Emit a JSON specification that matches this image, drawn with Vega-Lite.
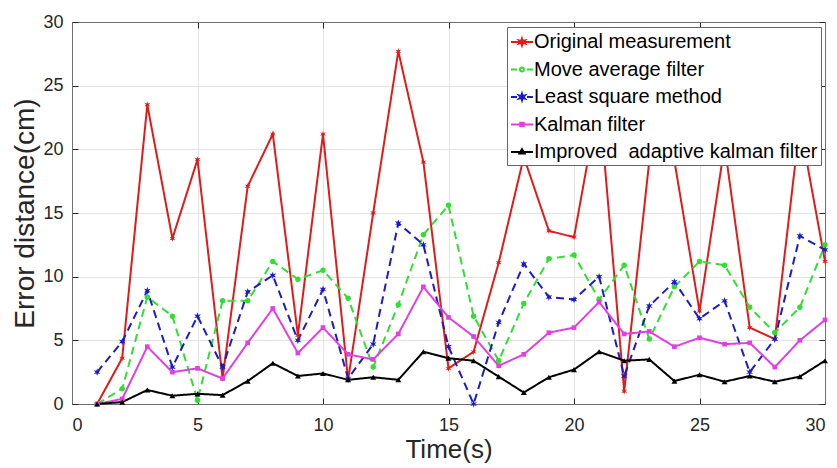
{
  "$schema": "https://vega.github.io/schema/vega-lite/v6.json",
  "width": 753,
  "height": 382,
  "autosize": "none",
  "padding": {"left": 72, "top": 22, "right": 12, "bottom": 64},
  "background": "white",
  "config": {
    "font": "Liberation Sans",
    "view": {"stroke": "#6e6e6e", "strokeWidth": 1},
    "axis": {
      "labelFont": "Liberation Sans",
      "labelFontSize": 18,
      "labelColor": "#262626",
      "titleFont": "Liberation Sans",
      "titleFontWeight": "normal",
      "titleColor": "#262626",
      "tickColor": "#262626",
      "tickSize": -6,
      "domainColor": "#6e6e6e",
      "gridColor": "#e3e3e3",
      "gridWidth": 1
    },
    "legend": {
      "orient": "none",
      "legendX": 435,
      "legendY": 5,
      "fillColor": "white",
      "strokeColor": "#666666",
      "padding": 3,
      "labelFont": "Liberation Sans",
      "labelFontSize": 20,
      "labelColor": "#000000",
      "labelLimit": 400,
      "labelOffset": 0,
      "rowPadding": 5.5,
      "symbolSize": 484,
      "symbolStrokeWidth": 2
    }
  },
  "data": {
    "values": [
      {"t": 1, "s": "Original measurement", "v": 0},
      {"t": 2, "s": "Original measurement", "v": 3.6},
      {"t": 3, "s": "Original measurement", "v": 23.5},
      {"t": 4, "s": "Original measurement", "v": 13.0},
      {"t": 5, "s": "Original measurement", "v": 19.2},
      {"t": 6, "s": "Original measurement", "v": 2.0},
      {"t": 7, "s": "Original measurement", "v": 17.1},
      {"t": 8, "s": "Original measurement", "v": 21.2},
      {"t": 9, "s": "Original measurement", "v": 5.4},
      {"t": 10, "s": "Original measurement", "v": 21.2},
      {"t": 11, "s": "Original measurement", "v": 1.9},
      {"t": 12, "s": "Original measurement", "v": 15.0},
      {"t": 13, "s": "Original measurement", "v": 27.7},
      {"t": 14, "s": "Original measurement", "v": 19.0},
      {"t": 15, "s": "Original measurement", "v": 2.8},
      {"t": 16, "s": "Original measurement", "v": 4.1},
      {"t": 17, "s": "Original measurement", "v": 11.1},
      {"t": 18, "s": "Original measurement", "v": 19.4},
      {"t": 19, "s": "Original measurement", "v": 13.6},
      {"t": 20, "s": "Original measurement", "v": 13.1},
      {"t": 21, "s": "Original measurement", "v": 24.0},
      {"t": 22, "s": "Original measurement", "v": 1.0},
      {"t": 23, "s": "Original measurement", "v": 19.1},
      {"t": 24, "s": "Original measurement", "v": 19.1},
      {"t": 25, "s": "Original measurement", "v": 7.3},
      {"t": 26, "s": "Original measurement", "v": 20.3},
      {"t": 27, "s": "Original measurement", "v": 6.0},
      {"t": 28, "s": "Original measurement", "v": 5.1},
      {"t": 29, "s": "Original measurement", "v": 22.0},
      {"t": 30, "s": "Original measurement", "v": 11.2},
      {"t": 1, "s": "Move average filter", "v": 0},
      {"t": 2, "s": "Move average filter", "v": 1.2},
      {"t": 3, "s": "Move average filter", "v": 8.4},
      {"t": 4, "s": "Move average filter", "v": 6.9},
      {"t": 5, "s": "Move average filter", "v": 0.3},
      {"t": 6, "s": "Move average filter", "v": 8.1},
      {"t": 7, "s": "Move average filter", "v": 8.1},
      {"t": 8, "s": "Move average filter", "v": 11.2},
      {"t": 9, "s": "Move average filter", "v": 9.8},
      {"t": 10, "s": "Move average filter", "v": 10.5},
      {"t": 11, "s": "Move average filter", "v": 8.3},
      {"t": 12, "s": "Move average filter", "v": 2.9},
      {"t": 13, "s": "Move average filter", "v": 7.8},
      {"t": 14, "s": "Move average filter", "v": 13.3},
      {"t": 15, "s": "Move average filter", "v": 15.6},
      {"t": 16, "s": "Move average filter", "v": 6.9},
      {"t": 17, "s": "Move average filter", "v": 3.4},
      {"t": 18, "s": "Move average filter", "v": 7.9},
      {"t": 19, "s": "Move average filter", "v": 11.4},
      {"t": 20, "s": "Move average filter", "v": 11.7},
      {"t": 21, "s": "Move average filter", "v": 8.2},
      {"t": 22, "s": "Move average filter", "v": 10.9},
      {"t": 23, "s": "Move average filter", "v": 5.1},
      {"t": 24, "s": "Move average filter", "v": 9.2},
      {"t": 25, "s": "Move average filter", "v": 11.2},
      {"t": 26, "s": "Move average filter", "v": 10.9},
      {"t": 27, "s": "Move average filter", "v": 7.6},
      {"t": 28, "s": "Move average filter", "v": 5.6},
      {"t": 29, "s": "Move average filter", "v": 7.6},
      {"t": 30, "s": "Move average filter", "v": 12.5},
      {"t": 1, "s": "Least square method", "v": 2.5},
      {"t": 2, "s": "Least square method", "v": 4.9},
      {"t": 3, "s": "Least square method", "v": 8.9},
      {"t": 4, "s": "Least square method", "v": 2.9},
      {"t": 5, "s": "Least square method", "v": 6.9},
      {"t": 6, "s": "Least square method", "v": 2.9},
      {"t": 7, "s": "Least square method", "v": 8.8},
      {"t": 8, "s": "Least square method", "v": 10.1},
      {"t": 9, "s": "Least square method", "v": 5.0},
      {"t": 10, "s": "Least square method", "v": 9.0},
      {"t": 11, "s": "Least square method", "v": 2.0},
      {"t": 12, "s": "Least square method", "v": 4.7},
      {"t": 13, "s": "Least square method", "v": 14.2},
      {"t": 14, "s": "Least square method", "v": 12.5},
      {"t": 15, "s": "Least square method", "v": 4.5},
      {"t": 16, "s": "Least square method", "v": 0},
      {"t": 17, "s": "Least square method", "v": 6.4},
      {"t": 18, "s": "Least square method", "v": 11.0},
      {"t": 19, "s": "Least square method", "v": 8.4},
      {"t": 20, "s": "Least square method", "v": 8.2},
      {"t": 21, "s": "Least square method", "v": 10.0},
      {"t": 22, "s": "Least square method", "v": 2.2},
      {"t": 23, "s": "Least square method", "v": 7.7},
      {"t": 24, "s": "Least square method", "v": 9.6},
      {"t": 25, "s": "Least square method", "v": 6.7},
      {"t": 26, "s": "Least square method", "v": 8.1},
      {"t": 27, "s": "Least square method", "v": 2.5},
      {"t": 28, "s": "Least square method", "v": 5.1},
      {"t": 29, "s": "Least square method", "v": 13.2},
      {"t": 30, "s": "Least square method", "v": 12.1},
      {"t": 1, "s": "Kalman filter", "v": 0},
      {"t": 2, "s": "Kalman filter", "v": 0.4},
      {"t": 3, "s": "Kalman filter", "v": 4.5},
      {"t": 4, "s": "Kalman filter", "v": 2.5},
      {"t": 5, "s": "Kalman filter", "v": 2.8},
      {"t": 6, "s": "Kalman filter", "v": 2.0},
      {"t": 7, "s": "Kalman filter", "v": 4.8},
      {"t": 8, "s": "Kalman filter", "v": 7.5},
      {"t": 9, "s": "Kalman filter", "v": 4.0},
      {"t": 10, "s": "Kalman filter", "v": 6.0},
      {"t": 11, "s": "Kalman filter", "v": 3.9},
      {"t": 12, "s": "Kalman filter", "v": 3.5},
      {"t": 13, "s": "Kalman filter", "v": 5.5},
      {"t": 14, "s": "Kalman filter", "v": 9.2},
      {"t": 15, "s": "Kalman filter", "v": 6.8},
      {"t": 16, "s": "Kalman filter", "v": 5.3},
      {"t": 17, "s": "Kalman filter", "v": 3.0},
      {"t": 18, "s": "Kalman filter", "v": 3.9},
      {"t": 19, "s": "Kalman filter", "v": 5.6},
      {"t": 20, "s": "Kalman filter", "v": 6.0},
      {"t": 21, "s": "Kalman filter", "v": 8.0},
      {"t": 22, "s": "Kalman filter", "v": 5.5},
      {"t": 23, "s": "Kalman filter", "v": 5.7},
      {"t": 24, "s": "Kalman filter", "v": 4.5},
      {"t": 25, "s": "Kalman filter", "v": 5.2},
      {"t": 26, "s": "Kalman filter", "v": 4.7},
      {"t": 27, "s": "Kalman filter", "v": 4.8},
      {"t": 28, "s": "Kalman filter", "v": 2.9},
      {"t": 29, "s": "Kalman filter", "v": 5.0},
      {"t": 30, "s": "Kalman filter", "v": 6.6},
      {"t": 1, "s": "Improved\u00a0 adaptive kalman filter", "v": 0},
      {"t": 2, "s": "Improved\u00a0 adaptive kalman filter", "v": 0.15},
      {"t": 3, "s": "Improved\u00a0 adaptive kalman filter", "v": 1.1},
      {"t": 4, "s": "Improved\u00a0 adaptive kalman filter", "v": 0.65},
      {"t": 5, "s": "Improved\u00a0 adaptive kalman filter", "v": 0.8},
      {"t": 6, "s": "Improved\u00a0 adaptive kalman filter", "v": 0.7},
      {"t": 7, "s": "Improved\u00a0 adaptive kalman filter", "v": 1.8},
      {"t": 8, "s": "Improved\u00a0 adaptive kalman filter", "v": 3.2},
      {"t": 9, "s": "Improved\u00a0 adaptive kalman filter", "v": 2.2},
      {"t": 10, "s": "Improved\u00a0 adaptive kalman filter", "v": 2.4},
      {"t": 11, "s": "Improved\u00a0 adaptive kalman filter", "v": 1.9},
      {"t": 12, "s": "Improved\u00a0 adaptive kalman filter", "v": 2.1},
      {"t": 13, "s": "Improved\u00a0 adaptive kalman filter", "v": 1.9},
      {"t": 14, "s": "Improved\u00a0 adaptive kalman filter", "v": 4.1},
      {"t": 15, "s": "Improved\u00a0 adaptive kalman filter", "v": 3.6},
      {"t": 16, "s": "Improved\u00a0 adaptive kalman filter", "v": 3.4},
      {"t": 17, "s": "Improved\u00a0 adaptive kalman filter", "v": 2.15},
      {"t": 18, "s": "Improved\u00a0 adaptive kalman filter", "v": 0.9},
      {"t": 19, "s": "Improved\u00a0 adaptive kalman filter", "v": 2.1},
      {"t": 20, "s": "Improved\u00a0 adaptive kalman filter", "v": 2.7},
      {"t": 21, "s": "Improved\u00a0 adaptive kalman filter", "v": 4.1},
      {"t": 22, "s": "Improved\u00a0 adaptive kalman filter", "v": 3.4},
      {"t": 23, "s": "Improved\u00a0 adaptive kalman filter", "v": 3.5},
      {"t": 24, "s": "Improved\u00a0 adaptive kalman filter", "v": 1.8},
      {"t": 25, "s": "Improved\u00a0 adaptive kalman filter", "v": 2.3},
      {"t": 26, "s": "Improved\u00a0 adaptive kalman filter", "v": 1.75},
      {"t": 27, "s": "Improved\u00a0 adaptive kalman filter", "v": 2.2},
      {"t": 28, "s": "Improved\u00a0 adaptive kalman filter", "v": 1.75},
      {"t": 29, "s": "Improved\u00a0 adaptive kalman filter", "v": 2.15},
      {"t": 30, "s": "Improved\u00a0 adaptive kalman filter", "v": 3.4}
    ]
  },
  "layer": [
    {
      "mark": {"type": "line", "strokeWidth": 2},
      "encoding": {
        "x": {
          "field": "t", "type": "quantitative",
          "scale": {"domain": [0, 30], "nice": false},
          "axis": {"orient": "bottom", "values": [0, 5, 10, 15, 20, 25, 30], "title": "Time(s)", "titleFontSize": 26, "titleY": 32, "grid": true, "labelPadding": 18}
        },
        "y": {
          "field": "v", "type": "quantitative",
          "scale": {"domain": [0, 30], "nice": false},
          "axis": {"orient": "left", "values": [0, 5, 10, 15, 20, 25, 30], "title": "Error distance(cm)", "titleFontSize": 28, "titleX": -33, "grid": true, "labelPadding": 15}
        },
        "color": {
          "field": "s", "type": "nominal",
          "scale": {
            "domain": ["Original measurement", "Move average filter", "Least square method", "Kalman filter", "Improved\u00a0 adaptive kalman filter"],
            "range": ["#e01b1b", "#33dd33", "#1c1cc4", "#e040e0", "#000000"]
          },
          "legend": null
        },
        "strokeDash": {
          "field": "s", "type": "nominal",
          "scale": {
            "domain": ["Original measurement", "Move average filter", "Least square method", "Kalman filter", "Improved\u00a0 adaptive kalman filter"],
            "range": [[1, 0], [8, 5], [8, 5], [1, 0], [1, 0]]
          },
          "legend": null
        }
      }
    },
    {
      "mark": {"type": "point", "filled": true, "opacity": 1},
      "encoding": {
        "x": {
          "field": "t", "type": "quantitative",
          "scale": {"domain": [0, 30], "nice": false},
          "axis": {"orient": "top", "values": [0, 5, 10, 15, 20, 25, 30], "title": null, "labels": false, "grid": false}
        },
        "y": {
          "field": "v", "type": "quantitative",
          "scale": {"domain": [0, 30], "nice": false},
          "axis": {"orient": "right", "values": [0, 5, 10, 15, 20, 25, 30], "title": null, "labels": false, "grid": false}
        },
        "fill": {
          "field": "s", "type": "nominal",
          "scale": {
            "domain": ["Original measurement", "Move average filter", "Least square method", "Kalman filter", "Improved\u00a0 adaptive kalman filter"],
            "range": ["#e01b1b", "#33dd33", "#1c1cc4", "#e040e0", "#000000"]
          },
          "legend": null
        },
        "shape": {
          "field": "s", "type": "nominal",
          "scale": {
            "domain": ["Original measurement", "Move average filter", "Least square method", "Kalman filter", "Improved\u00a0 adaptive kalman filter"],
            "range": [
              "M0,-1L0.2,-0.346L0.866,-0.5L0.4,0L0.866,0.5L0.2,0.346L0,1L-0.2,0.346L-0.866,0.5L-0.4,0L-0.866,-0.5L-0.2,-0.346Z",
              "circle",
              "M0,-1L0.2,-0.346L0.866,-0.5L0.4,0L0.866,0.5L0.2,0.346L0,1L-0.2,0.346L-0.866,0.5L-0.4,0L-0.866,-0.5L-0.2,-0.346Z",
              "square",
              "triangle-up"
            ]
          },
          "legend": null
        },
        "size": {
          "field": "s", "type": "nominal",
          "scale": {
            "type": "ordinal",
            "domain": ["Original measurement", "Move average filter", "Least square method", "Kalman filter", "Improved\u00a0 adaptive kalman filter"],
            "range": [45, 30, 60, 22, 35]
          },
          "legend": null
        }
      }
    },
    {
      "transform": [{"filter": "datum.t < 0"}],
      "mark": {"type": "point", "filled": false, "strokeWidth": 2, "opacity": 1},
      "encoding": {
        "stroke": {
          "field": "s", "type": "nominal",
          "scale": {
            "domain": ["Original measurement", "Move average filter", "Least square method", "Kalman filter", "Improved\u00a0 adaptive kalman filter"],
            "range": ["#e01b1b", "#33dd33", "#1c1cc4", "#e040e0", "#000000"]
          },
          "legend": {"title": null}
        },
        "shape": {
          "field": "s", "type": "nominal",
          "scale": {
            "domain": ["Original measurement", "Move average filter", "Least square method", "Kalman filter", "Improved\u00a0 adaptive kalman filter"],
            "range": [
              "M-1,0H1M0,-0.3L0.06,-0.104L0.26,-0.15L0.12,0L0.26,0.15L0.06,0.104L0,0.3L-0.06,0.104L-0.26,0.15L-0.12,0L-0.26,-0.15L-0.06,-0.104Z",
              "M-1,0H-0.45M0.45,0H1M0.18,0A0.18,0.18,0,1,1,-0.18,0A0.18,0.18,0,1,1,0.18,0Z",
              "M-1,0H-0.45M0.45,0H1M0,-0.3L0.06,-0.104L0.26,-0.15L0.12,0L0.26,0.15L0.06,0.104L0,0.3L-0.06,0.104L-0.26,0.15L-0.12,0L-0.26,-0.15L-0.06,-0.104Z",
              "M-1,0H1M-0.16,-0.16H0.16V0.16H-0.16Z",
              "M-1,0H1M0,-0.26L0.24,0.14H-0.24Z"
            ]
          },
          "legend": {"title": null}
        }
      }
    }
  ],
  "resolve": {"axis": {"x": "independent", "y": "independent"}, "scale": {"shape": "independent", "stroke": "independent"}}
}
